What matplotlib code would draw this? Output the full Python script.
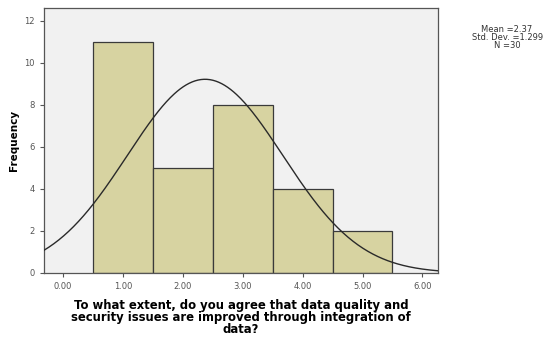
import numpy as np
import matplotlib.pyplot as plt

# histogram bins (values 1..5) and their frequencies
bin_centers = [1, 2, 3, 4, 5]
frequencies = [11, 5, 8, 4, 2]
mean_val = 2.37
std_val = 1.299
n_total = 30
x_ticks = [0, 1, 2, 3, 4, 5, 6]
y_ticks = [0, 2, 4, 6, 8, 10, 12]

fig = plt.figure(figsize=(5.47, 3.37), dpi=100)
ax = fig.add_axes([0.0804, 0.19, 0.7203, 0.786])
ax.set_facecolor('#f1f1f1')

ax.bar(bin_centers, frequencies, width=1.0, color='#d7d3a1', edgecolor='#3a3a3a', linewidth=0.9, zorder=2)

xs = np.linspace(-0.32, 6.26, 400)
curve = n_total * 1.0 / (std_val * np.sqrt(2 * np.pi)) * np.exp(-0.5 * ((xs - mean_val) / std_val) ** 2)
ax.plot(xs, curve, color='#2a2a2a', linewidth=1.0, zorder=3)

ax.set_xlim(-0.32, 6.26)
ax.set_ylim(0, 12.6)
ax.set_xticks(x_ticks)
ax.set_xticklabels(['{:.2f}'.format(v) for v in x_ticks])
ax.set_yticks(y_ticks)
ax.tick_params(axis='both', labelsize=6, colors='#555555', length=3, width=0.8)
ax.tick_params(axis='both', labelcolor='#555555')
for s in ax.spines.values():
    s.set_color('#555555')
    s.set_linewidth(0.9)

ax.set_ylabel('Frequency', fontsize=7.5, fontweight='bold', labelpad=4)
ax.set_xlabel('To what extent, do you agree that data quality and\nsecurity issues are improved through integration of\ndata?',
              fontsize=8.4, fontweight='bold', linespacing=0.9, labelpad=6)

fig.text(0.927, 0.925, 'Mean =2.37\nStd. Dev. =1.299\nN =30', fontsize=6, color='#333333',
         ha='center', va='top', linespacing=0.85)

fig.savefig('out.png', dpi=100, facecolor='white')
